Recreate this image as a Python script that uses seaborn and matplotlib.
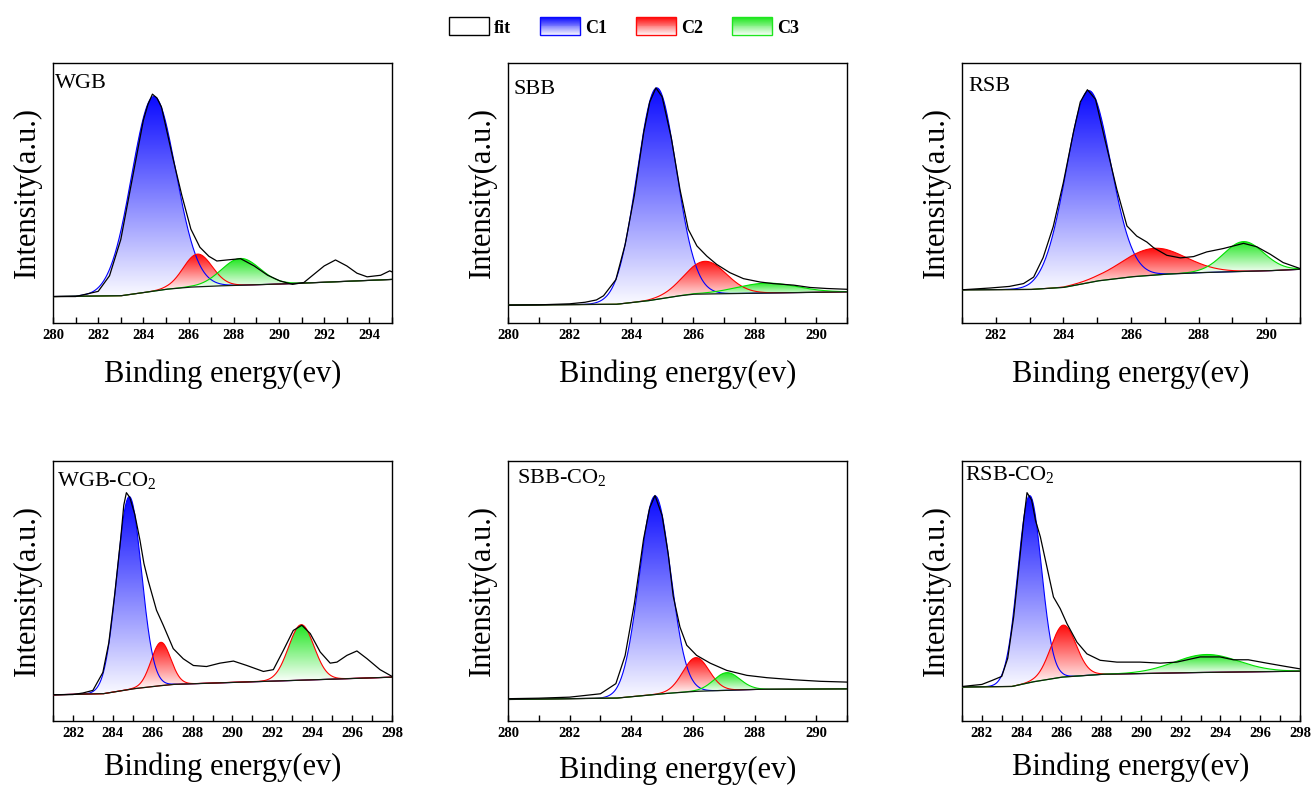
import numpy as np
import pandas as pd
import matplotlib
matplotlib.use("Agg")
import matplotlib.pyplot as plt
import matplotlib.patches as mpatches
from matplotlib.colors import to_rgb
from matplotlib.legend_handler import HandlerBase
from matplotlib.ticker import MultipleLocator
import seaborn as sns

# ---- data (intensity in arbitrary units, 0-100 = axis height) ----
# black measured curve, baseline nodes, and fitted peak parameters (C1, C2, C3)

wgb_energy = [280, 281, 282, 282.5, 283, 283.5, 284, 284.2, 284.4, 284.6, 284.8, 285.3, 285.7,
              286.1, 286.5, 286.9, 287.25, 287.7, 288.3, 288.9, 289.5, 290.05, 290.6, 291.1,
              291.45, 292.0, 292.5, 293.0, 293.45, 293.9, 294.5, 294.9, 295.0]
wgb_intensity = [10.0, 10.0, 12.0, 18.0, 32.0, 55.0, 78.0, 84.0, 88.0, 86.5, 83.0, 63.5, 49.0,
                 36.0, 29.0, 25.5, 23.7, 24.1, 24.6, 21.8, 18.2, 16.0, 14.7, 15.4,
                 17.9, 21.8, 24.1, 21.8, 19.0, 17.6, 18.2, 19.9, 19.5]
wgb_base_energy = [280, 283, 284, 285, 286, 287, 288, 290, 292, 295]
wgb_base_level = [10.0, 10.3, 11.5, 12.8, 13.6, 14.0, 14.3, 14.8, 15.5, 16.6]
wgb_centers = [284.45, 286.4, 288.3]
wgb_heights = [75.0, 12.6, 10.3]
wgb_fwhm = [2.3, 1.5, 2.0]

sbb_energy = [280, 281, 282, 282.5, 282.87, 283.1, 283.5, 283.8, 284.1, 284.4, 284.6, 284.8,
              285.0, 285.3, 285.58, 285.85, 286.13, 286.45, 286.77, 287.2, 287.64, 288.18,
              288.6, 289.27, 289.8, 290.35, 291.0]
sbb_intensity = [6.7, 6.8, 7.2, 7.8, 8.7, 10.3, 16.5, 30.0, 49.0, 73.0, 85.0, 90.4,
                 87.0, 71.0, 51.3, 35.9, 29.5, 25.6, 22.4, 19.2, 16.9, 15.6,
                 15.0, 14.4, 13.5, 13.1, 12.8]
sbb_base_energy = [280, 283.5, 284.5, 285.5, 286, 288, 291]
sbb_base_level = [6.7, 7.0, 8.3, 10.2, 10.9, 11.3, 11.8]
sbb_centers = [284.82, 286.4, 288.4]
sbb_heights = [81.5, 12.6, 3.8]
sbb_fwhm = [1.5, 1.6, 2.3]

rsb_energy = [281, 281.84, 282.4, 282.82, 283.12, 283.4, 283.7, 284.0, 284.3, 284.5, 284.71,
              284.95, 285.2, 285.58, 285.88, 286.17, 286.47, 286.67, 287.06, 287.46, 287.85,
              288.24, 288.73, 289.33, 289.72, 290.12, 290.5, 291.0]
rsb_intensity = [12.6, 13.3, 13.9, 15.0, 17.5, 25.0, 37.0, 54.0, 73.5, 85.0, 89.7,
                 86.0, 72.0, 51.3, 37.2, 33.3, 31.0, 28.8, 25.9, 24.9, 25.4,
                 27.2, 28.5, 30.5, 29.2, 26.3, 23.1, 20.8]
rsb_base_energy = [281, 283, 284, 285, 286, 287, 288, 290, 291]
rsb_base_level = [12.6, 12.7, 13.5, 16.0, 17.6, 18.6, 19.2, 19.9, 20.5]
rsb_centers = [284.74, 286.67, 289.33]
rsb_heights = [74.0, 10.3, 11.5]
rsb_fwhm = [1.55, 2.2, 1.4]

wgbc_energy = [281, 282, 282.5, 283, 283.5, 283.8, 284.1, 284.4, 284.55, 284.68, 284.85, 285.1,
               285.36, 285.56, 285.77, 286.19, 286.53, 287.03, 287.53, 288.04, 288.7, 289.37,
               290.05, 290.72, 291.55, 292.05, 292.55, 293.05, 293.48, 293.9, 294.4, 294.9,
               295.24, 295.74, 296.24, 296.75, 297.4, 298.0]
wgbc_intensity = [9.9, 10.0, 10.6, 11.6, 18.5, 30.0, 49.0, 70.5, 83.0, 87.8, 86.0, 79.5,
                  69.5, 60.5, 54.0, 42.5, 36.7, 27.7, 23.8, 21.2, 20.8, 22.1,
                  22.9, 21.2, 18.9, 19.6, 27.0, 34.7, 36.7, 33.5, 26.4, 22.1,
                  22.5, 25.1, 26.8, 23.8, 19.6, 17.0]
wgbc_base_energy = [281, 283.5, 285, 286, 287, 290, 293, 296, 298]
wgbc_base_level = [9.9, 10.3, 12.2, 13.1, 13.9, 14.7, 15.4, 16.2, 16.7]
wgbc_centers = [284.82, 286.41, 293.45]
wgbc_heights = [74.3, 16.7, 21.4]
wgbc_fwhm = [1.45, 1.15, 1.5]

sbbc_energy = [280, 281, 282, 283, 283.5, 283.8, 284.1, 284.4, 284.6, 284.77, 285.0, 285.2,
               285.36, 285.58, 285.8, 286.12, 286.56, 287.1, 287.75, 288.4, 289.27, 290.14, 291.0]
sbbc_intensity = [8.4, 8.6, 9.0, 10.3, 14.2, 25.0, 45.0, 70.0, 82.0, 86.7, 79.0, 64.0,
                  48.0, 36.0, 29.0, 25.1, 22.1, 19.3, 17.4, 16.5, 15.7, 15.1, 14.8]
sbbc_base_energy = [280, 283.5, 285, 286, 287, 288, 291]
sbbc_base_level = [8.1, 8.6, 10.3, 11.2, 11.6, 12.0, 12.2]
sbbc_centers = [284.77, 286.1, 287.1]
sbbc_heights = [76.5, 13.0, 6.8]
sbbc_fwhm = [1.2, 1.0, 1.0]

rsbc_energy = [281, 282, 282.5, 283, 283.3, 283.6, 283.9, 284.1, 284.27, 284.5, 284.7, 284.94,
               285.27, 285.6, 285.94, 286.28, 286.78, 287.28, 287.95, 288.79, 289.96, 290.97,
               291.8, 292.98, 293.98, 294.65, 295.4, 296.33, 297.3, 298.0]
rsbc_intensity = [13.1, 13.9, 15.4, 17.0, 24.0, 40.0, 62.0, 77.0, 87.8, 85.0, 77.0, 70.8,
                  59.2, 47.6, 43.1, 37.3, 30.2, 25.7, 23.2, 22.5, 22.5, 22.1,
                  22.5, 24.5, 24.5, 23.4, 23.4, 22.1, 20.8, 19.9]
rsbc_base_energy = [281, 283.5, 284.5, 286, 288, 292, 298]
rsbc_base_level = [12.9, 13.1, 14.8, 16.7, 17.8, 18.4, 19.0]
rsbc_centers = [284.4, 286.1, 293.3]
rsbc_heights = [72.0, 20.0, 6.9]
rsbc_fwhm = [1.4, 1.5, 3.8]

component_names = ["C1", "C2", "C3"]
fill_colors = ["#0a0aff", "#ff0a0a", "#1ee61e"]

panels = [
    dict(name="WGB", xlim=(280, 295), energy=wgb_energy, intensity=wgb_intensity,
         be=wgb_base_energy, bl=wgb_base_level, c=wgb_centers, h=wgb_heights, w=wgb_fwhm,
         edges=["blue", "red", "#00e000"], pos=(53, 63), lab=(0.006, 0.904), lp=12),
    dict(name="SBB", xlim=(280, 291), energy=sbb_energy, intensity=sbb_intensity,
         be=sbb_base_energy, bl=sbb_base_level, c=sbb_centers, h=sbb_heights, w=sbb_fwhm,
         edges=["blue", "red", "#00e000"], pos=(508, 63), lab=(0.015, 0.881), lp=12),
    dict(name="RSB", xlim=(281, 291), energy=rsb_energy, intensity=rsb_intensity,
         be=rsb_base_energy, bl=rsb_base_level, c=rsb_centers, h=rsb_heights, w=rsb_fwhm,
         edges=["blue", "red", "#00e000"], pos=(962, 63), lab=(0.018, 0.892), lp=12),
    dict(name="WGB-CO$_\\mathregular{2}$", xlim=(281, 298), energy=wgbc_energy, intensity=wgbc_intensity,
         be=wgbc_base_energy, bl=wgbc_base_level, c=wgbc_centers, h=wgbc_heights, w=wgbc_fwhm,
         edges=["blue", "red", "red"], pos=(53, 461), lab=(0.011, 0.903), lp=9),
    dict(name="SBB-CO$_\\mathregular{2}$", xlim=(280, 291), energy=sbbc_energy, intensity=sbbc_intensity,
         be=sbbc_base_energy, bl=sbbc_base_level, c=sbbc_centers, h=sbbc_heights, w=sbbc_fwhm,
         edges=["blue", "red", "#00e000"], pos=(508, 461), lab=(0.026, 0.915), lp=11),
    dict(name="RSB-CO$_\\mathregular{2}$", xlim=(281, 298), energy=rsbc_energy, intensity=rsbc_intensity,
         be=rsbc_base_energy, bl=rsbc_base_level, c=rsbc_centers, h=rsbc_heights, w=rsbc_fwhm,
         edges=["blue", "red", "#00e000"], pos=(962, 461), lab=(0.009, 0.927), lp=9),
]

sns.set_theme(style="ticks")
plt.rcParams['font.family'] = ['Liberation Serif', 'DejaVu Serif']
plt.rcParams['mathtext.fontset'] = 'custom'
plt.rcParams['mathtext.rm'] = 'Liberation Serif'
plt.rcParams['axes.edgecolor'] = 'black'
plt.rcParams['axes.linewidth'] = 1.0
plt.rcParams['text.color'] = 'black'
plt.rcParams['axes.labelcolor'] = 'black'

W, H = 1311, 785
fig = plt.figure(figsize=(W / 100, H / 100), dpi=100)


def gauss(x, c, h, fwhm):
    s = fwhm / 2.3548
    return h * np.exp(-(x - c) ** 2 / (2 * s * s))


def gradient_fill(ax, x, low, high, color):
    poly = ax.fill_between(x, low, high, facecolor='none', edgecolor='none')
    patch = mpatches.PathPatch(poly.get_paths()[0], facecolor='none', edgecolor='none',
                               transform=ax.transData)
    ax.add_patch(patch)
    rgb = np.array(to_rgb(color))
    t = np.linspace(0.02, 1, 256)[:, None]
    img = ((1 - t) * np.array([1.0, 1.0, 1.0]) + t * rgb)[:, None, :]
    mask = (high - low) > 0.01 * (high - low).max()
    ymin = low[mask].min()
    im = ax.imshow(img, extent=[x[0], x[-1], ymin, high.max()], origin='lower',
                   aspect='auto', zorder=2, interpolation='bilinear')
    im.set_clip_path(patch)


for p in panels:
    left, top = p['pos']
    width = 339 if left < 900 else 338
    ax = fig.add_axes([left / W, 1 - (top + 259.5) / H, width / W, 259.5 / H])
    x = np.linspace(p['xlim'][0], p['xlim'][1], 800)
    base = np.interp(x, p['be'], p['bl'])
    for k in range(3):
        peak = base + gauss(x, p['c'][k], p['h'][k], p['w'][k])
        gradient_fill(ax, x, base, peak, fill_colors[k])
        ax.plot(x, peak, color=p['edges'][k], lw=0.8, zorder=3)
    ax.plot(x, base, color='#102010', lw=0.9, zorder=4)
    df = pd.DataFrame({'energy': p['energy'], 'intensity': p['intensity']})
    sns.lineplot(data=df, x='energy', y='intensity', color='black', lw=0.9,
                 estimator=None, sort=False, ax=ax, zorder=5)
    ax.set_xlim(*p['xlim'])
    ax.set_ylim(0, 100)
    first = int(np.ceil(p['xlim'][0] / 2) * 2)
    ticks = np.arange(first, p['xlim'][1] + 0.01, 2)
    ax.set_xticks(ticks, labels=[f"{int(v)}" for v in ticks], fontweight='bold')
    ax.xaxis.set_minor_locator(MultipleLocator(1))
    ax.tick_params(axis='x', which='both', direction='in', length=4, width=1,
                   labelsize=10.5, pad=5, colors='black')
    ax.set_yticks([])
    ax.set_xlabel('Binding energy(ev)', fontsize=22, labelpad=p['lp'])
    ax.set_ylabel('Intensity(a.u.)', fontsize=22, labelpad=8)
    ax.text(p['lab'][0], p['lab'][1], p['name'], transform=ax.transAxes,
            fontsize=16, va='baseline', ha='left', color='black')
    for s in ax.spines.values():
        s.set_color('black')
        s.set_linewidth(1.0)


class GradientHandler(HandlerBase):
    def create_artists(self, legend, orig_handle, xdescent, ydescent, width, height,
                       fontsize, trans):
        rgb = np.array(to_rgb(orig_handle.get_facecolor()))
        n = 20
        arts = []
        for i in range(n):
            t = 1 - i / (n - 1)
            c = (1 - t) * np.array([1.0, 1.0, 1.0]) + t * rgb
            arts.append(mpatches.Rectangle((-xdescent, -ydescent + height * (n - 1 - i) / n),
                                           width, height / n, facecolor=c,
                                           edgecolor='none', transform=trans))
        arts.append(mpatches.Rectangle((-xdescent, -ydescent), width, height,
                                       facecolor='none', edgecolor=orig_handle.get_edgecolor(),
                                       lw=1.0, transform=trans))
        return arts


handles = [mpatches.Patch(facecolor='white', edgecolor='black')]
for col in fill_colors:
    handles.append(mpatches.Patch(facecolor=col, edgecolor=col))
labels = ['fit'] + component_names

fig.legend(handles, labels, handler_map={mpatches.Patch: GradientHandler()},
           loc='center', bbox_to_anchor=(624 / W, 1 - 27 / H), ncol=4, frameon=False,
           prop={'family': 'Liberation Serif', 'weight': 'bold', 'size': 13},
           handlelength=2.2, handleheight=1.15, handletextpad=0.3, columnspacing=1.6)

fig.savefig('out.png', dpi=100)
